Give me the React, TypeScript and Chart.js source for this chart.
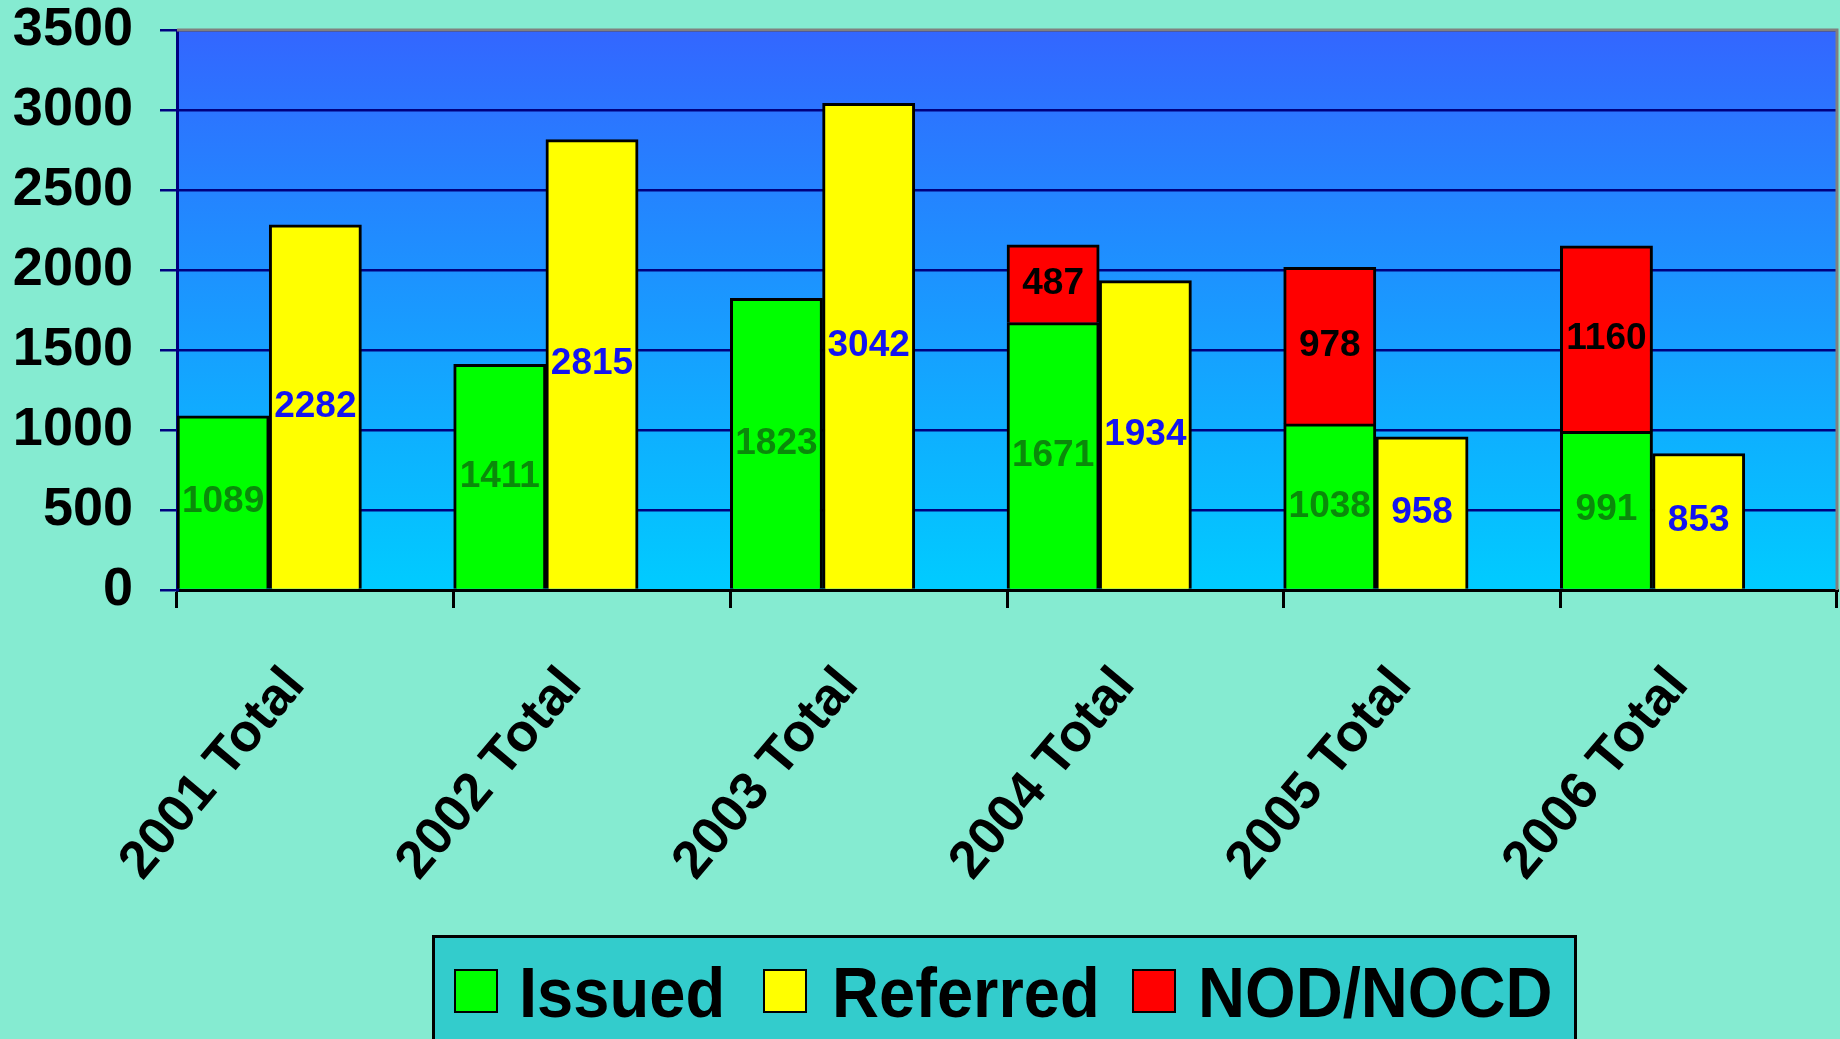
import React, { useEffect, useRef } from "react";
import { Chart, registerables } from "chart.js";

Chart.register(...registerables);

const categories = ["2001 Total", "2002 Total", "2003 Total", "2004 Total", "2005 Total", "2006 Total"];
const issued = [1089, 1411, 1823, 1671, 1038, 991];
const referred = [2282, 2815, 3042, 1934, 958, 853];
const nod = [null, null, null, 487, 978, 1160];
const legendLabels = ["Issued", "Referred", "NOD/NOCD"];
const yMax = 3500;
const yStep = 500;

const FONT = "'Liberation Sans', Arial, Helvetica, sans-serif";
const BG = "#85EBD1";

const plotBackground = {
  id: "plotBackground",
  beforeDraw(chart: any) {
    const { ctx, chartArea } = chart;
    if (!chartArea) return;
    const g = ctx.createLinearGradient(0, chartArea.top, 0, chartArea.bottom);
    g.addColorStop(0, "#3366FF");
    g.addColorStop(1, "#00CCFF");
    ctx.save();
    ctx.fillStyle = g;
    ctx.fillRect(chartArea.left, chartArea.top, chartArea.right - chartArea.left, chartArea.bottom - chartArea.top);
    ctx.restore();
  },
  beforeDatasetsDraw(chart: any) {
    const { ctx, chartArea } = chart;
    ctx.save();
    ctx.strokeStyle = "#808080";
    ctx.lineWidth = 3;
    ctx.beginPath();
    ctx.moveTo(chartArea.left, chartArea.top);
    ctx.lineTo(chartArea.right, chartArea.top);
    ctx.lineTo(chartArea.right, chartArea.bottom);
    ctx.stroke();
    ctx.restore();
  },
};

const valueLabels = {
  id: "valueLabels",
  afterDatasetsDraw(chart: any) {
    const { ctx } = chart;
    ctx.save();
    ctx.textAlign = "center";
    ctx.textBaseline = "middle";
    chart.data.datasets.forEach((ds: any, i: number) => {
      if (!ds.labelColor) return;
      const meta = chart.getDatasetMeta(i);
      meta.data.forEach((el: any, j: number) => {
        const v = ds.data[j];
        if (v === null || v === undefined) return;
        const y = (el.y + el.base) / 2;
        ctx.font = `bold 37px ${FONT}`;
        ctx.fillStyle = ds.labelColor;
        ctx.fillText(String(v), el.x, y);
      });
    });
    ctx.restore();
  },
};

export default function App() {
  const ref = useRef<HTMLCanvasElement>(null);

  useEffect(() => {
    document.body.style.margin = "0";
    const chart = new Chart(ref.current as HTMLCanvasElement, {
      type: "bar",
      data: {
        labels: categories,
        datasets: [
          {
            label: legendLabels[0],
            data: issued,
            stack: "a",
            backgroundColor: "#00FF00",
            borderColor: "#000000",
            borderWidth: 3,
            labelColor: "#0A8A0A",
          } as any,
          {
            label: legendLabels[1],
            data: referred,
            stack: "b",
            backgroundColor: "#FFFF00",
            borderColor: "#000000",
            borderWidth: 3,
            labelColor: "#1414F0",
          } as any,
          {
            label: legendLabels[2],
            data: nod,
            stack: "a",
            backgroundColor: "#FF0000",
            borderColor: "#000000",
            borderWidth: 3,
            labelColor: "#000000",
          } as any,
          {
            label: "",
            data: categories.map(() => null),
            stack: "c",
            backgroundColor: "rgba(0,0,0,0)",
            borderWidth: 0,
          } as any,
        ],
      },
      options: {
        animation: false,
        responsive: false,
        maintainAspectRatio: false,
        layout: { padding: { top: 0, right: 3, left: 0, bottom: 0 } },
        datasets: { bar: { categoryPercentage: 1, barPercentage: 1, borderSkipped: "start" } },
        plugins: {
          legend: { display: false },
          tooltip: { enabled: false },
        },
        scales: {
          x: {
            stacked: true,
            offset: true,
            grid: {
              offset: true,
              drawOnChartArea: false,
              drawTicks: true,
              color: "#000000",
              lineWidth: 3,
              tickLength: 18,
            },
            border: { color: "#000000", width: 3 },
            ticks: {
              minRotation: 50,
              maxRotation: 50,
              autoSkip: false,
              padding: 48,
              labelOffset: -20,
              color: "#000000",
              font: { family: FONT, weight: "bold", size: 53 },
            },
            afterFit(scale: any) {
              scale.height = 1039 - 590;
            },
          },
          y: {
            stacked: true,
            min: 0,
            max: yMax,
            ticks: {
              stepSize: yStep,
              padding: 27,
              color: "#000000",
              font: { family: FONT, weight: "bold", size: 54 },
              callback: (v: any) => String(v),
            },
            grid: {
              color: (c: any) => (c.tick && c.tick.value === 0 ? "rgba(0,0,0,0)" : "#000080"),
              tickColor: "#000080",
              lineWidth: 2.5,
              tickLength: 17,
            },
            border: { color: "#000080", width: 3 },
            afterFit(scale: any) {
              scale.width = 177;
              scale.paddingTop = 30;
              scale.paddingBottom = 0;
            },
          },
        },
      } as any,
      plugins: [plotBackground, valueLabels],
    });
    return () => chart.destroy();
  }, []);

  const legendItems = [
    { label: legendLabels[0], color: "#00FF00", box: 454, text: 519 },
    { label: legendLabels[1], color: "#FFFF00", box: 763, text: 832 },
    { label: legendLabels[2], color: "#FF0000", box: 1132, text: 1198 },
  ];

  return (
    <div style={{ position: "fixed", left: 0, top: 0, width: 1840, height: 1039, background: BG, overflow: "hidden" }}>
      <canvas ref={ref} width={1840} height={1039} style={{ position: "absolute", left: 0, top: 0, width: 1840, height: 1039 }} />
      <div
        style={{
          position: "absolute",
          left: 432,
          top: 935,
          width: 1577 - 432,
          height: 130,
          background: "#33CCCC",
          border: "3px solid #000000",
          boxSizing: "border-box",
        }}
      />
      {legendItems.map((it) => (
        <React.Fragment key={it.label}>
          <div
            style={{
              position: "absolute",
              left: it.box,
              top: 969,
              width: 44,
              height: 44,
              background: it.color,
              border: "2px solid #000000",
              boxSizing: "border-box",
            }}
          />
          <div
            style={{
              position: "absolute",
              left: it.text,
              top: 958,
              height: 70,
              lineHeight: "70px",
              fontFamily: FONT,
              fontWeight: "bold",
              fontSize: 70,
              color: "#000000",
              whiteSpace: "nowrap",
              transform: "scaleX(0.93)",
              transformOrigin: "left center",
            }}
          >
            {it.label}
          </div>
        </React.Fragment>
      ))}
    </div>
  );
}
